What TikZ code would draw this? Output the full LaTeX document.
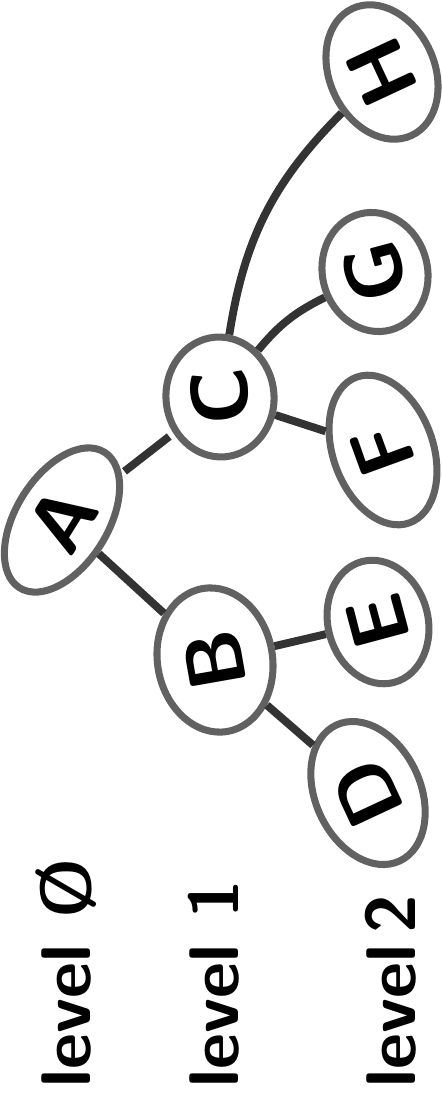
\documentclass[tikz,border=0pt]{standalone}
\usetikzlibrary{shapes.geometric}
\tikzset{
  tnode/.style n args={3}{ellipse, draw=black!62, line width=4pt, inner sep=0pt,
    minimum width=#1*0.02cm, minimum height=#2*0.02cm, rotate=#3,
    font=\sffamily\bfseries\fontsize{46}{46}\selectfont},
  link/.style={draw=black!80, line width=4.5pt},
  lvl/.style={rotate=90, anchor=base west, inner sep=0pt,
    font=\sffamily\bfseries\fontsize{40}{40}\selectfont}
}

\begin{document}
\begin{tikzpicture}[x=0.02cm,y=-0.02cm]
  \useasboundingbox (0,0) rectangle (441,1099);
  % the tree, lying on its side
  \node[tnode={160}{92}{58}] (A) at (62,520) {A};
  \node[tnode={145}{115}{100}] (B) at (215,660) {B};
  \node[tnode={120}{108}{95}] (C) at (220,397) {C};
  \node[tnode={150}{105}{115}] (D) at (368,793) {D};
  \node[tnode={125}{100}{105}] (E) at (378,622) {E};
  \node[tnode={155}{100}{110}] (F) at (383,450) {F};
  \node[tnode={120}{105}{105}] (G) at (375,272) {G};
  \node[tnode={140}{105}{115}] (H) at (382,72) {H};
  \draw[link,shorten <=2pt,shorten >=3pt] (A) -- (C);
  \draw[link] (A) -- (B);
  \draw[link] (B) -- (E);
  \draw[link] (B) -- (D);
  \draw[link] (C) -- (F);
  \draw[link] (C) to[bend left=12] (G);
  \draw[link] (C) to[bend left=18] (H);
  % levels
  \node[lvl] (l0) at (90,1088) {level \O};
  \node[lvl] (l1) at (238,1088) {level 1};
  \node[lvl] (l2) at (415,1088) {level\,2};
\end{tikzpicture}
\end{document}
